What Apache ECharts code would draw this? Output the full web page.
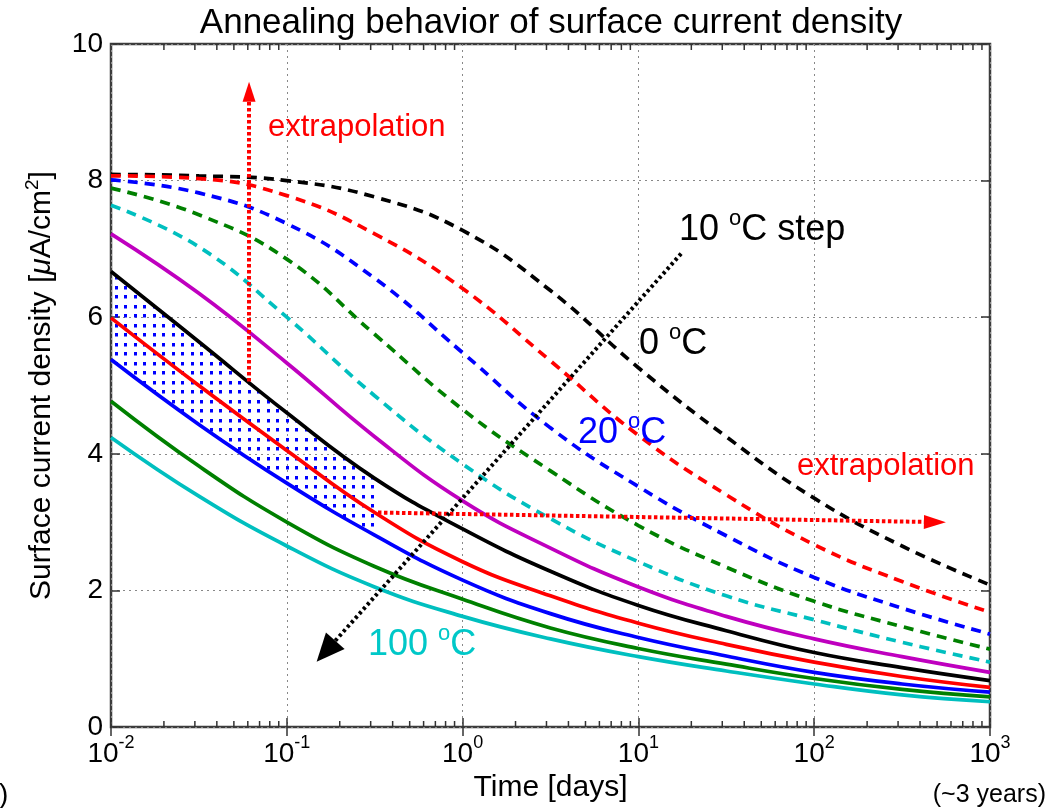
<!DOCTYPE html>
<html><head><meta charset="utf-8">
<script src="https://cdn.jsdelivr.net/npm/echarts@6/dist/echarts.min.js"></script>
<style>html,body{margin:0;padding:0;background:#fff}#c{width:1051px;height:808px}</style>
</head><body><div id="c"></div>
<script>
// ---------- data ----------
const timeDays = [0.01, 0.0316, 0.1, 0.316, 1, 3.16, 10, 31.6, 100, 316, 1000];
const tempLabels = ['0', '10', '20', '30', '40', '50', '60', '70', '80', '90', '100'];
const j0   = [8.09, 8.07, 8.00, 7.76, 7.27, 6.39, 5.26, 4.25, 3.35, 2.65, 2.08];
const j10  = [8.07, 8.03, 7.78, 7.22, 6.42, 5.36, 4.27, 3.40, 2.67, 2.13, 1.68];
const j20  = [8.01, 7.82, 7.37, 6.57, 5.48, 4.38, 3.52, 2.80, 2.19, 1.74, 1.36];
const j30  = [7.89, 7.50, 6.85, 5.75, 4.65, 3.75, 2.95, 2.34, 1.84, 1.47, 1.14];
const j40  = [7.64, 7.03, 6.00, 4.85, 3.85, 3.05, 2.42, 1.92, 1.57, 1.24, 0.95];
const j50  = [7.22, 6.35, 5.33, 4.25, 3.31, 2.62, 2.05, 1.62, 1.29, 1.03, 0.80];
const j60  = [6.67, 5.64, 4.60, 3.64, 2.90, 2.28, 1.78, 1.41, 1.09, 0.87, 0.68];
const j70  = [5.99, 5.00, 4.05, 3.14, 2.42, 1.92, 1.52, 1.21, 0.95, 0.74, 0.58];
const j80  = [5.38, 4.43, 3.57, 2.81, 2.15, 1.66, 1.31, 1.04, 0.80, 0.63, 0.51];
const j90  = [4.77, 3.82, 3.00, 2.35, 1.87, 1.45, 1.15, 0.92, 0.71, 0.55, 0.44];
const j100 = [4.24, 3.38, 2.65, 2.05, 1.62, 1.29, 1.03, 0.82, 0.63, 0.47, 0.37];
// hatched region between the 60 C and 80 C curves
const bandTime  = [0.01, 0.0316, 0.1, 0.33];
const bandUpper = [6.67, 5.64, 4.60, 3.61];
const bandLower = [5.38, 4.43, 3.57, 2.79];
// annotation arrows [time, value]
const arrowUp    = [[0.061, 5.06], [0.061, 9.30]];
const arrowRight = [[0.33, 3.14], [486, 3.00]];
const arrowStep  = [[17.5, 6.93], [0.167, 1.11]];
const xExponents = ['-2', '-1', '0', '1', '2', '3'];
const yTicks = [0, 2, 4, 6, 8, 10];

// ---------- styling ----------
const FONT = 'Liberation Sans, Arial, Helvetica, sans-serif';
const curves = [j0, j10, j20, j30, j40, j50, j60, j70, j80, j90, j100];
const colors = ['#000000', '#ff0000', '#0000ff', '#008000', '#00bfbf', '#bf00bf',
                '#000000', '#ff0000', '#0000ff', '#008000', '#00bfbf'];

const pc = document.createElement('canvas');
pc.width = 19; pc.height = 19;
const pctx = pc.getContext('2d');
pctx.fillStyle = '#0000ff';
[[1, 1], [10, 1], [1, 10], [10, 10]].forEach(p => pctx.fillRect(p[0], p[1], 3, 3.5));

const minorTicks = [];
for (let e = -2; e < 3; e++) for (let k = 2; k <= 9; k++) minorTicks.push(k * Math.pow(10, e));

const SM = 0.45;
const series = [];
// band: value in dim 0 (mapped to y) so the stack runs along y
series.push({
  type: 'line', stack: 'band', silent: true, z: 1, smooth: SM, showSymbol: false,
  encode: { x: 1, y: 0 },
  data: bandTime.map((t, k) => [bandLower[k], t]), lineStyle: { opacity: 0 }
});
series.push({
  type: 'line', stack: 'band', silent: true, z: 1, smooth: SM, showSymbol: false,
  encode: { x: 1, y: 0 },
  data: bandTime.map((t, k) => [bandUpper[k] - bandLower[k], t]), lineStyle: { opacity: 0 },
  areaStyle: { color: { image: pc, repeat: 'repeat' }, opacity: 1 }
});
curves.forEach((arr, i) => {
  series.push({
    type: 'line', name: tempLabels[i] + ' °C', z: 3, smooth: SM, showSymbol: false, silent: true,
    data: timeDays.map((t, k) => [t, arr[k]]),
    lineStyle: { color: colors[i], width: 3.7, type: i < 5 ? [10, 7] : 'solid', cap: 'butt' }
  });
});
function arrowLine(pts, color, width, dash, size) {
  return [
    { coord: pts[0], symbol: 'none', lineStyle: { color: color, width: width, type: dash, cap: 'butt' } },
    { coord: pts[1], symbol: 'triangle', symbolSize: size, itemStyle: { color: color } }
  ];
}
series.push({
  type: 'line', data: [], silent: true, z: 6,
  markLine: {
    silent: true, animation: false, label: { show: false }, symbol: ['none', 'triangle'],
    emphasis: { disabled: true },
    data: [
      arrowLine(arrowUp, '#ff0000', 4, [3.5, 2.5], [13, 20]),
      arrowLine(arrowRight, '#ff0000', 4, [3.5, 2.5], [14, 22]),
      arrowLine(arrowStep, '#000000', 4, [3, 3], [25, 28])
    ]
  }
});
series.push({
  type: 'custom', silent: true, z: 7,
  data: minorTicks.map(v => [v, 0]), encode: { x: 0, y: 1 },
  renderItem: function (params, api) {
    const v = api.value(0);
    const b = api.coord([v, 0]);
    const t = api.coord([v, 10]);
    return { type: 'group', children: [
      { type: 'line', shape: { x1: b[0], y1: b[1], x2: b[0], y2: b[1] - 6 }, style: { stroke: '#333', lineWidth: 1.5 } },
      { type: 'line', shape: { x1: t[0], y1: t[1], x2: t[0], y2: t[1] + 6 }, style: { stroke: '#333', lineWidth: 1.5 } }
    ]};
  }
});

function degText(prefix, suffix, color, size) {
  return {
    text: '{n|' + prefix + '}{s|o}{n|C' + suffix + '}',
    rich: {
      n: { fontSize: size, fontFamily: FONT, fill: color, color: color, lineHeight: size + 4, verticalAlign: 'bottom' },
      s: { fontSize: Math.round(size * 0.62), fontFamily: FONT, fill: color, color: color, lineHeight: Math.round(size * 0.62), verticalAlign: 'top' }
    }
  };
}
function gtext(x, y, styleExtra, align) {
  return { type: 'text', x: x, y: y, z: 20, silent: true,
    style: Object.assign({ textAlign: align || 'left', textVerticalAlign: 'middle', align: align || 'left', verticalAlign: 'middle' }, styleExtra) };
}

const option = {
  animation: false,
  backgroundColor: '#ffffff',
  grid: { left: 111, right: 61, top: 44, bottom: 80, show: true, borderColor: '#3c3c3c', borderWidth: 2.5, backgroundColor: 'transparent' },
  xAxis: [{
    type: 'log', logBase: 10, min: 0.01, max: 1000, position: 'bottom',
    name: 'Time [days]', nameLocation: 'middle', nameGap: 46,
    nameTextStyle: { fontSize: 30, fontFamily: FONT, color: '#000' },
    axisLine: { show: false },
    axisTick: { show: true, inside: true, length: 9, lineStyle: { color: '#333', width: 1.5 } },
    splitLine: { show: true, lineStyle: { color: '#888', type: [2, 4], width: 1 } },
    axisLabel: {
      margin: 7,
      formatter: function (v) {
        const e = Math.round(Math.log10(v));
        const lbl = xExponents.find(s => Number(s) === e);
        return '{b|10}{s|' + lbl + '}';
      },
      rich: {
        b: { fontSize: 28, fontFamily: FONT, color: '#000', lineHeight: 34, verticalAlign: 'bottom' },
        s: { fontSize: 18, fontFamily: FONT, color: '#000', lineHeight: 18, verticalAlign: 'top' }
      }
    }
  }, {
    type: 'log', logBase: 10, min: 0.01, max: 1000, position: 'top',
    axisLine: { show: false }, axisLabel: { show: false }, splitLine: { show: false },
    axisTick: { show: true, inside: true, length: 9, lineStyle: { color: '#333', width: 1.5 } }
  }],
  yAxis: [{
    type: 'value', min: 0, max: 10, interval: 2, position: 'left',
    name: '{t|Surface current density [}{m|μ}{t|A/cm}{s|2}{t|]}',
    nameLocation: 'middle', nameGap: 54,
    nameTextStyle: {
      rich: {
        t: { fontSize: 30, fontFamily: FONT, color: '#000', lineHeight: 34, verticalAlign: 'bottom' },
        m: { fontSize: 30, fontFamily: FONT, fontStyle: 'italic', color: '#000', lineHeight: 34, verticalAlign: 'bottom' },
        s: { fontSize: 19, fontFamily: FONT, color: '#000', lineHeight: 19, verticalAlign: 'top' }
      }
    },
    axisLine: { show: false },
    axisTick: { show: true, inside: true, length: 9, lineStyle: { color: '#333', width: 1.5 } },
    splitLine: { show: true, lineStyle: { color: '#888', type: [2, 4], width: 1 } },
    axisLabel: { margin: 8, fontSize: 28, fontFamily: FONT, color: '#000',
      formatter: v => String(yTicks.find(t => t === v)) }
  }, {
    type: 'value', min: 0, max: 10, interval: 2, position: 'right',
    axisLine: { show: false }, axisLabel: { show: false }, splitLine: { show: false },
    axisTick: { show: true, inside: true, length: 9, lineStyle: { color: '#333', width: 1.5 } }
  }],
  series: series,
  graphic: [
    gtext(551, 23, { text: 'Annealing behavior of surface current density', font: '35px ' + FONT, fill: '#000' }, 'center'),
    gtext(268, 127, { text: 'extrapolation', font: '31px ' + FONT, fill: '#ff0000' }),
    gtext(797, 466, { text: 'extrapolation', font: '31px ' + FONT, fill: '#ff0000' }),
    gtext(679, 228, degText('10 ', ' step', '#000000', 36)),
    gtext(639, 342, degText('0 ', '', '#000000', 36)),
    gtext(578, 431, degText('20 ', '', '#0000ff', 36)),
    gtext(368, 643, degText('100 ', '', '#00c8c8', 36)),
    gtext(1046, 795, { text: '(~3 years)', font: '25px ' + FONT, fill: '#000' }, 'right'),
    gtext(-1, 795, { text: ')', font: '28px ' + FONT, fill: '#000' })
  ]
};
const chart = echarts.init(document.getElementById('c'), null, { renderer: 'canvas' });
chart.setOption(option);
</script>
</body></html>
